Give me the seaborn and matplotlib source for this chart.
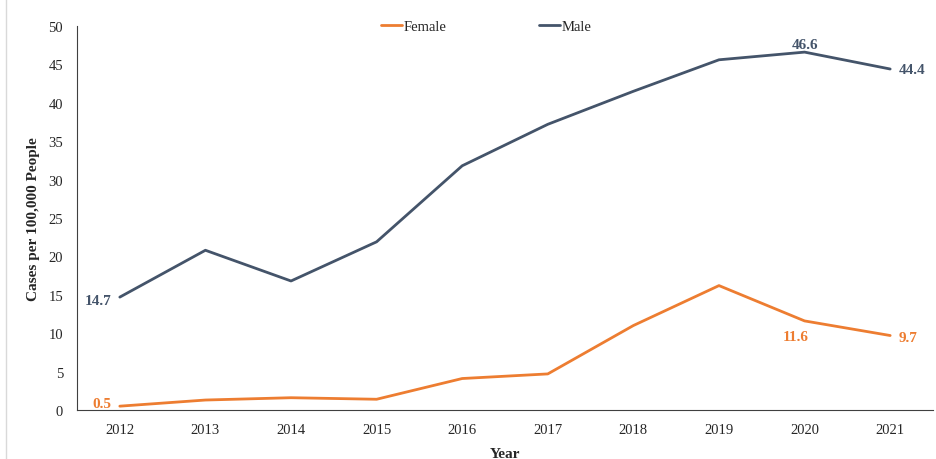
# plot.py
# Line chart of cases per 100,000 people by sex, 2012-2021

import pandas as pd
import seaborn as sns
import matplotlib.pyplot as plt

# data
years = ["2012", "2013", "2014", "2015", "2016", "2017", "2018", "2019", "2020", "2021"]
female = [0.5, 1.3, 1.6, 1.4, 4.1, 4.7, 11.0, 16.2, 11.6, 9.7]
male = [14.7, 20.8, 16.8, 21.9, 31.8, 37.2, 41.5, 45.6, 46.6, 44.4]
series_names = ["Female", "Male"]
series_colors = ["#ED7D31", "#44546A"]

# long-form table for seaborn
df = pd.DataFrame({
    "Year": years * 2,
    "Rate": female + male,
    "Sex": ["Female"] * len(years) + ["Male"] * len(years),
})
df["pos"] = list(range(len(years))) * 2

sns.set_style("white")
plt.rcParams["font.family"] = ["Liberation Serif", "DejaVu Serif"]

fig = plt.figure(figsize=(9.37, 4.6), dpi=100)
ax = fig.add_axes([0.0822, 0.1065, 0.9135, 0.8348])

sns.lineplot(data=df, x="pos", y="Rate", hue="Sex", hue_order=series_names,
             palette=dict(zip(series_names, series_colors)), linewidth=2.0,
             ax=ax, legend=True)

# category axis: labels at centres, ticks on boundaries
ax.set_xlim(-0.5, len(years) - 0.5)
ax.set_xticks(range(len(years)))
ax.set_xticklabels(years, fontsize=10.5)
ax.set_xticks([i - 0.5 for i in range(len(years) + 1)], minor=True)
ax.tick_params(axis="x", which="major", length=0, pad=9)
ax.tick_params(axis="x", which="minor", length=5, width=0.8, color="#404040", direction="out")

ax.set_ylim(0, 50)
ax.set_yticks(range(0, 51, 5))
ax.tick_params(axis="y", length=4, width=0.8, color="#404040", direction="out", labelsize=10.5, pad=6)

for side in ["top", "right"]:
    ax.spines[side].set_visible(False)
for side in ["left", "bottom"]:
    ax.spines[side].set_color("#404040")
    ax.spines[side].set_linewidth(0.8)

ax.set_xlabel("Year", fontsize=11, fontweight="bold", labelpad=8)
ax.set_ylabel("Cases per 100,000 People", fontsize=11, fontweight="bold", labelpad=6)

# legend at the top centre
leg = ax.legend(loc="center", bbox_to_anchor=(0.478, 1.0), ncol=2, frameon=False,
                fontsize=10.5, handlelength=1.5, handletextpad=0.1, columnspacing=6.3)
for line in leg.get_lines():
    line.set_linewidth(2.0)

# data labels
lab = dict(fontsize=11, fontweight="bold")
ax.text(-0.1, male[0] - 0.5, f"{male[0]}", color=series_colors[1], ha="right", va="center", **lab)
ax.text(-0.1, female[0] + 0.3, f"{female[0]}", color=series_colors[0], ha="right", va="center", **lab)
ax.text(8, male[8] + 0.2, f"{male[8]}", color=series_colors[1], ha="center", va="bottom", **lab)
ax.text(9.1, male[9], f"{male[9]}", color=series_colors[1], ha="left", va="center", **lab)
ax.text(7.9, female[8] - 1.2, f"{female[8]}", color=series_colors[0], ha="center", va="top", **lab)
ax.text(9.1, female[9] - 0.2, f"{female[9]}", color=series_colors[0], ha="left", va="center", **lab)

# thin frame line on the left edge like the source image
fig.add_artist(plt.Line2D([0.006, 0.006], [0, 1], color="#d9d9d9", linewidth=1))

fig.savefig("out.png", dpi=100)
